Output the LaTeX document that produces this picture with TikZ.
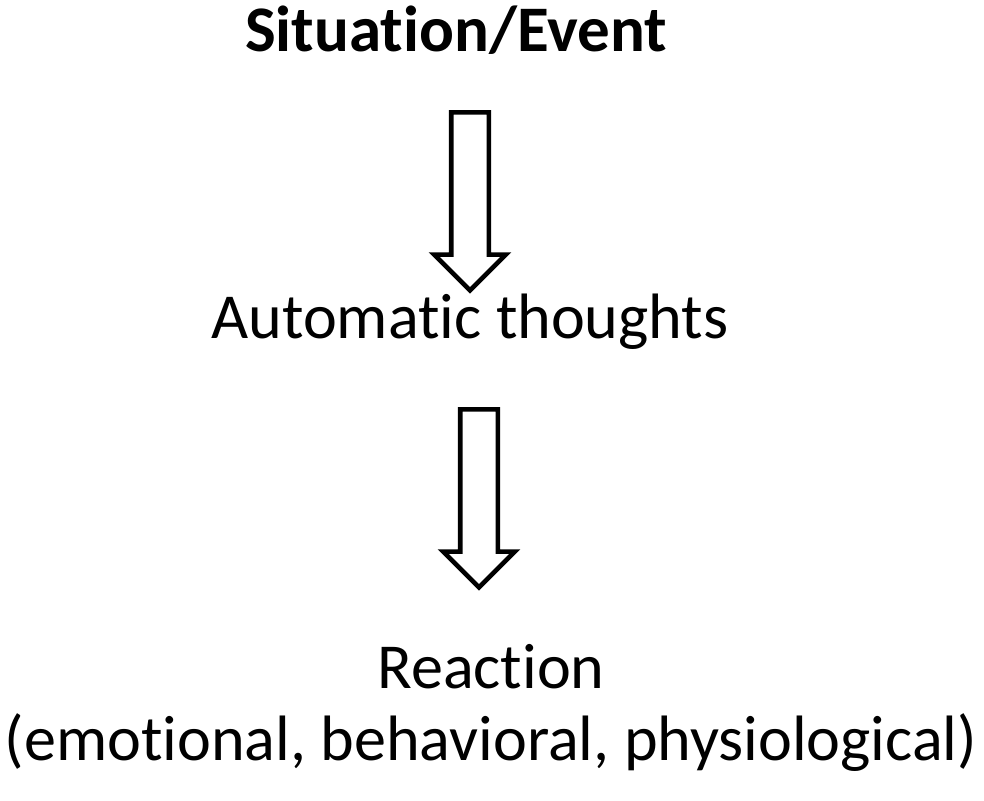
\documentclass[tikz,border=0pt]{standalone}
\usepackage{fontspec}
\setmainfont{Carlito}[Ligatures={NoCommon,NoRare,NoDiscretionary}]
\usetikzlibrary{shapes.arrows}
\newcommand{\nolig}{\kern0pt}

\begin{document}
\begin{tikzpicture}[x=0.02cm,y=-0.02cm,
  label/.style={font=\fontsize{36.5}{41}\selectfont,inner sep=0pt,align=center},
  downarrow/.style={single arrow,draw,line width=2.6pt,shape border rotate=270,
    inner sep=0.33cm,single arrow head extend=0.34cm,
    single arrow tip angle=90,minimum height=3.56cm}]
\useasboundingbox (0,0) rectangle (984,801);

\node[label,font=\fontsize{37}{41}\selectfont\bfseries](situation) at (456,30){Situat\nolig ion/Event};
\node[label](thoughts) at (470,322){Automat\nolig ic thoughts};
\node[label](reaction) at (491,708){React\nolig ion\\(emot\nolig ional, behavioral, physiological)};

\node[downarrow](arrowA) at (470,192){};
\node[downarrow](arrowB) at (479,489){};

\end{tikzpicture}
\end{document}
